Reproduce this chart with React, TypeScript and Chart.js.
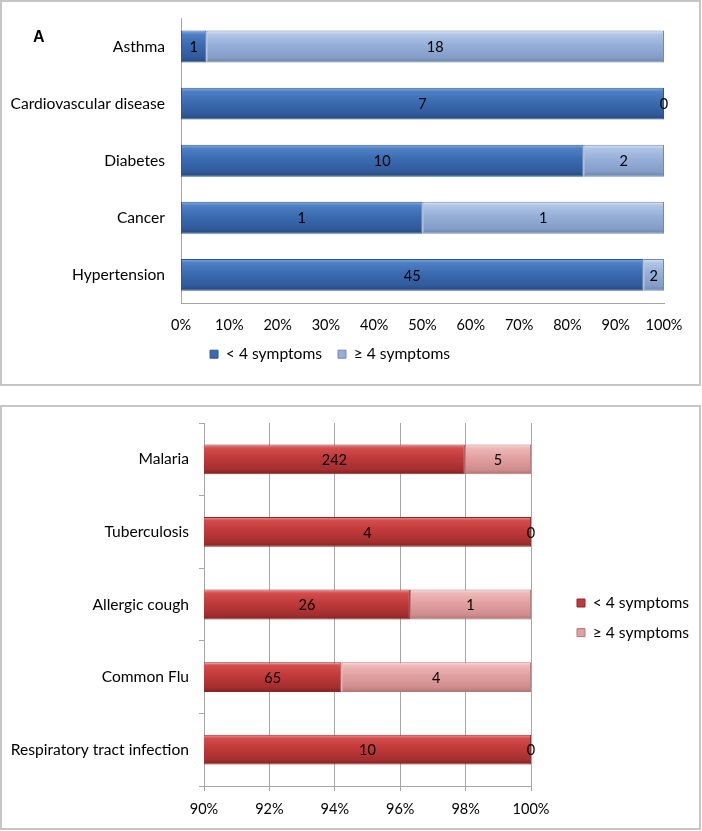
import React, { useEffect, useRef } from 'react';
import { Chart, registerables } from 'chart.js';

Chart.register(...registerables);

// ---------- data ----------
const seriesLabels = ['< 4 symptoms', '≥ 4 symptoms'];

const chronicCategories = ['Asthma', 'Cardiovascular disease', 'Diabetes', 'Cancer', 'Hypertension'];
const chronicLess = [1, 7, 10, 1, 45];
const chronicMore = [18, 0, 2, 1, 2];
const chronicTickLabels = ['0%', '10%', '20%', '30%', '40%', '50%', '60%', '70%', '80%', '90%', '100%'];

const acuteCategories = ['Malaria', 'Tuberculosis', 'Allergic cough', 'Common Flu', 'Respiratory tract infection'];
const acuteLess = [242, 4, 26, 65, 10];
const acuteMore = [5, 0, 1, 4, 0];
const acuteTickLabels = ['90%', '92%', '94%', '96%', '98%', '100%'];

const pct = (a: number[], b: number[], first: boolean) =>
  a.map((v, i) => ((first ? v : b[i]) / (v + b[i])) * 100);

// ---------- styling helpers ----------
const FONT = 'Lato, "Open Sans", sans-serif';
const FS_TEXT = 15.6;
const FS_NUM = 14.5;
Chart.defaults.font.family = FONT;
Chart.defaults.color = '#000';

type Stops = [string, string, string, string, string];

function barFill(stops: Stops, barPct: number) {
  return (c: any) => {
    const chart = c.chart;
    const ys = chart.scales && chart.scales.y;
    if (!chart.chartArea || !ys || c.dataIndex === undefined) return stops[2];
    const n = ys.getLabels().length;
    const band = (ys.bottom - ys.top) / n;
    const yc = ys.getPixelForValue(c.dataIndex);
    const h = band * barPct;
    const g = chart.ctx.createLinearGradient(0, yc - h / 2, 0, yc + h / 2);
    g.addColorStop(0, stops[0]);
    g.addColorStop(0.12, stops[1]);
    g.addColorStop(0.45, stops[2]);
    g.addColorStop(0.85, stops[3]);
    g.addColorStop(1, stops[4]);
    return g;
  };
}

function countLabelsPlugin(counts: number[][]) {
  return {
    id: 'countLabels',
    afterDatasetsDraw(chart: any) {
      const { ctx, chartArea } = chart;
      ctx.save();
      ctx.font = `${FS_NUM}px ${FONT}`;
      ctx.fillStyle = '#000';
      ctx.textAlign = 'center';
      ctx.textBaseline = 'middle';
      chart.data.datasets.forEach((_ds: any, di: number) => {
        const meta = chart.getDatasetMeta(di);
        meta.data.forEach((el: any, i: number) => {
          const { x, y, base } = el.getProps(['x', 'y', 'base'], true);
          const l = Math.max(Math.min(x, base), chartArea.left);
          const r = Math.min(Math.max(x, base), chartArea.right);
          ctx.fillText(String(counts[di][i]), (l + r) / 2, y + 1);
        });
      });
      ctx.restore();
    },
  };
}

function legendPlace(fn: (lg: any) => { dx: number; dy: number }) {
  return {
    id: 'legendPlace',
    afterLayout(chart: any) {
      const lg = chart.legend;
      if (!lg) return;
      const { dx, dy } = fn(lg);
      lg.left += dx;
      lg.right += dx;
      lg.top += dy;
      lg.bottom += dy;
    },
  };
}

function legendLabels(flat: string[], borders: string[]) {
  return (chart: any) =>
    Chart.defaults.plugins.legend.labels
      .generateLabels(chart)
      .map((it: any, i: number) => ({ ...it, fillStyle: flat[i], strokeStyle: borders[i], lineWidth: 1 }));
}

const noPadY = (w: number) => (s: any) => {
  s.width = w;
  s.paddingTop = 0;
  s.paddingBottom = 0;
};
const noPadX = (h: number) => (s: any) => {
  s.height = h;
  s.paddingLeft = 0;
  s.paddingRight = 0;
};

const blueDark: Stops = ['#86ACE2', '#4F80C5', '#3A6BB1', '#30599A', '#244778'];
const blueLight: Stops = ['#DCE6F5', '#AFC5E6', '#96AFD8', '#849DC6', '#6A82AB'];
const redDark: Stops = ['#F39494', '#D44C4C', '#C03A3A', '#A42E2E', '#7E2222'];
const redLight: Stops = ['#FBDCDC', '#EEB7B7', '#E2A1A1', '#D08C8C', '#B07272'];

const AXIS = '#A6A6A6';

export default function App() {
  const topRef = useRef<HTMLCanvasElement>(null);
  const botRef = useRef<HTMLCanvasElement>(null);

  useEffect(() => {
    const topBar = 0.56;
    const top = new Chart(topRef.current!, {
      type: 'bar',
      data: {
        labels: chronicCategories,
        datasets: [
          {
            label: seriesLabels[0],
            data: pct(chronicLess, chronicMore, true),
            backgroundColor: barFill(blueDark, topBar),
            borderColor: '#2D5690',
            borderWidth: 1,
            borderSkipped: false,
            barPercentage: topBar,
            categoryPercentage: 1,
          },
          {
            label: seriesLabels[1],
            data: pct(chronicLess, chronicMore, false),
            backgroundColor: barFill(blueLight, topBar),
            borderColor: '#7189B0',
            borderWidth: 1,
            borderSkipped: false,
            barPercentage: topBar,
            categoryPercentage: 1,
          },
        ],
      },
      options: {
        indexAxis: 'y',
        responsive: false,
        animation: false,
        devicePixelRatio: 1,
        layout: { padding: { top: 18, right: 38, bottom: 14, left: 0 } },
        scales: {
          x: {
            stacked: true,
            min: 0,
            max: 100,
            ticks: {
              stepSize: 10,
              autoSkip: false,
              maxRotation: 0,
              padding: 13,
              font: { size: FS_NUM },
              color: '#000',
              callback: (_v: any, i: number) => chronicTickLabels[i],
            },
            grid: { display: false, drawTicks: false },
            border: { display: true, color: AXIS, width: 1 },
            afterFit: noPadX(27),
          },
          y: {
            stacked: true,
            ticks: { padding: 16, font: { size: FS_TEXT }, color: '#000', autoSkip: false },
            grid: { display: false, drawTicks: false },
            border: { display: true, color: AXIS, width: 1 },
            afterFit: noPadY(181),
          },
        },
        plugins: {
          legend: {
            position: 'bottom',
            labels: {
              boxWidth: 8,
              boxHeight: 8,
              padding: 16,
              font: { size: FS_TEXT },
              color: '#000',
              generateLabels: legendLabels(['#3A6BB1', '#96AFD8'], ['#2D5690', '#7189B0']),
            },
          },
          tooltip: { enabled: false },
        },
      } as any,
      plugins: [countLabelsPlugin([chronicLess, chronicMore]), legendPlace(() => ({ dx: -2, dy: 0 }))],
    });

    const botBar = 0.41;
    const bot = new Chart(botRef.current!, {
      type: 'bar',
      data: {
        labels: acuteCategories,
        datasets: [
          {
            label: seriesLabels[0],
            data: pct(acuteLess, acuteMore, true),
            backgroundColor: barFill(redDark, botBar),
            borderColor: '#8E2828',
            borderWidth: 1,
            borderSkipped: false,
            barPercentage: botBar,
            categoryPercentage: 1,
          },
          {
            label: seriesLabels[1],
            data: pct(acuteLess, acuteMore, false),
            backgroundColor: barFill(redLight, botBar),
            borderColor: '#B07A7A',
            borderWidth: 1,
            borderSkipped: false,
            barPercentage: botBar,
            categoryPercentage: 1,
          },
        ],
      },
      options: {
        indexAxis: 'y',
        responsive: false,
        animation: false,
        devicePixelRatio: 1,
        layout: { padding: { top: 17, right: 35, bottom: 5, left: 0 } },
        scales: {
          x: {
            stacked: true,
            min: 90,
            max: 100,
            ticks: {
              stepSize: 2,
              autoSkip: false,
              maxRotation: 0,
              padding: 10,
              font: { size: FS_NUM },
              color: '#000',
              callback: (_v: any, i: number) => acuteTickLabels[i],
            },
            grid: { display: true, color: AXIS, drawTicks: true, tickLength: 5 },
            border: { display: true, color: AXIS, width: 1 },
            afterFit: noPadX(40),
          },
          y: {
            stacked: true,
            ticks: { padding: 10, font: { size: FS_TEXT }, color: '#000', autoSkip: false },
            grid: { display: true, drawOnChartArea: false, drawTicks: true, tickLength: 5, color: AXIS, offset: true },
            border: { display: true, color: AXIS, width: 1 },
            afterFit: noPadY(204),
          },
        },
        plugins: {
          legend: {
            position: 'right',
            labels: {
              boxWidth: 8,
              boxHeight: 8,
              padding: 14,
              font: { size: FS_TEXT },
              color: '#000',
              generateLabels: legendLabels(['#C03A3A', '#E2A1A1'], ['#8E2828', '#B07A7A']),
            },
          },
          tooltip: { enabled: false },
        },
      } as any,
      plugins: [
        countLabelsPlugin([acuteLess, acuteMore]),
        legendPlace((lg: any) => ({ dx: 577 - 14 - lg.left, dy: -6.7 })),
      ],
    });

    return () => {
      top.destroy();
      bot.destroy();
    };
  }, []);

  const border = '2px solid #C6C6C6';
  return (
    <div style={{ position: 'absolute', left: 0, top: 0, width: 702, height: 831, background: '#fff', overflow: 'hidden' }}>
      <canvas ref={topRef} width={702} height={386} style={{ position: 'absolute', left: 0, top: 0 }} />
      <div
        style={{
          position: 'absolute',
          left: 0,
          top: 0,
          width: 701,
          height: 386,
          border,
          boxSizing: 'border-box',
          pointerEvents: 'none',
        }}
      />
      <div
        style={{
          position: 'absolute',
          left: 33,
          top: 28,
          font: 'bold 16px "Liberation Sans", Arial, sans-serif',
          color: '#000',
        }}
      >
        A
      </div>
      <canvas ref={botRef} width={702} height={425} style={{ position: 'absolute', left: 0, top: 406 }} />
      <div
        style={{
          position: 'absolute',
          left: 0,
          top: 405,
          width: 701,
          height: 425,
          border,
          boxSizing: 'border-box',
          pointerEvents: 'none',
        }}
      />
    </div>
  );
}
